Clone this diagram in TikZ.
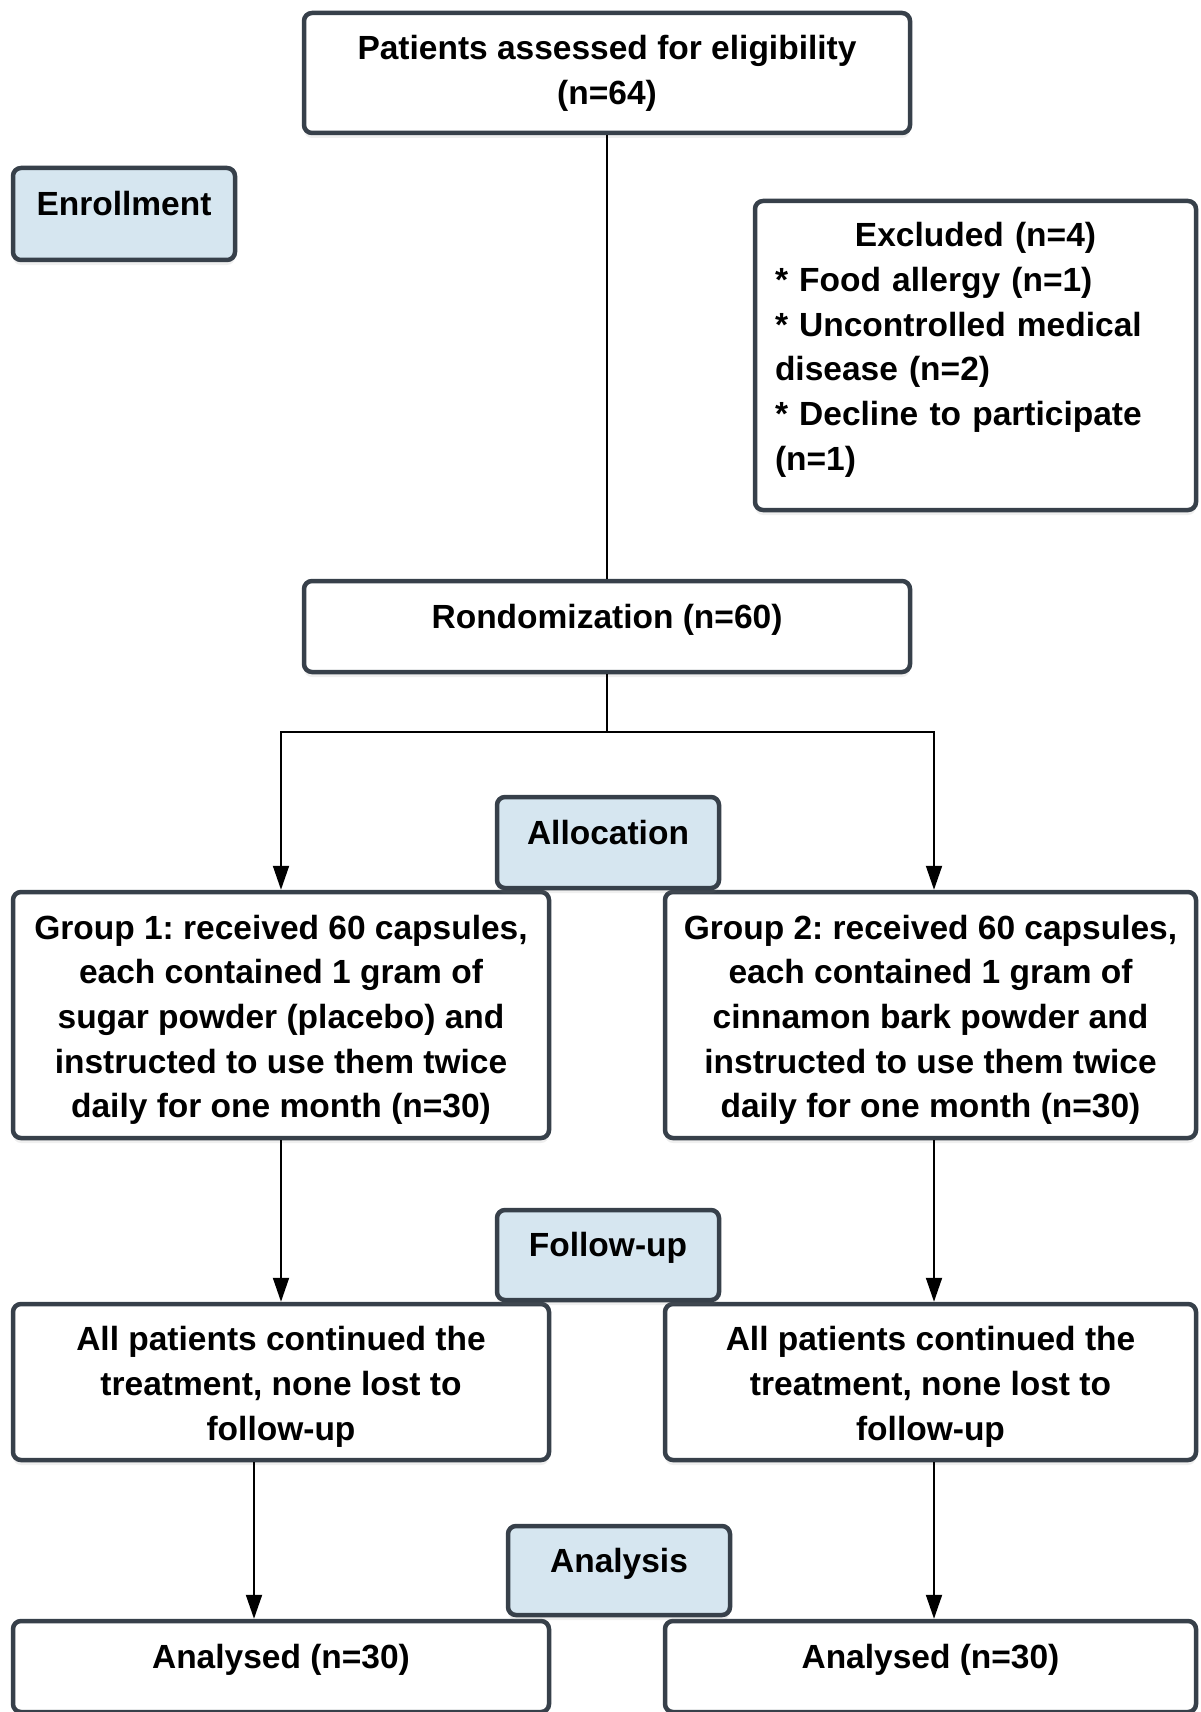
\documentclass[tikz,border=0pt]{standalone}
\usepackage{fontspec}
\setmainfont{Liberation Sans}
\usepackage{tikz}
\usetikzlibrary{arrows.meta, shadows}
\usepackage{xcolor}
\definecolor{boxline}{RGB}{55,64,74}
\definecolor{phaseblue}{RGB}{214,230,240}
\newcommand{\topgap}{\rule{0pt}{34pt}}
\tikzset{
  flowbox/.style={rectangle, rounded corners=8pt, draw=boxline, fill=white,
                  line width=4.5pt, align=center, inner sep=0pt,
                  font=\fontsize{33.5pt}{44.7pt}\selectfont\bfseries\frenchspacing,
                  drop shadow={shadow xshift=0pt, shadow yshift=-5pt, opacity=0.12}},
  phasebox/.style={flowbox, fill=phaseblue},
  oneline/.style={text height=24pt, text depth=21pt},
  link/.style={line width=2pt},
  arrowlink/.style={line width=2pt, -{Triangle[length=24pt, width=16pt]}},
}
\begin{document}
\begin{tikzpicture}[x=1pt, y=-1pt]
    \fill[white, use as bounding box] (0,0) rectangle (1200,1712);
    \clip (0,0) rectangle (1200,1712);
    % Enrollment
    \node[flowbox, minimum width=606pt, minimum height=120pt] (assess) at (607,73)
      {Patients assessed for eligibility\\(n=64)};
    \node[phasebox, oneline, minimum width=222pt, minimum height=92pt] (enroll) at (124,214) {Enrollment};
    \node[flowbox, minimum width=441pt, minimum height=309pt, align=left,
          text width=401pt] (excl) at (975.5,355.5)
      {\makebox[\hsize]{Excluded (n=4)}\\
       {*} Food allergy (n=1)\\
       {*} Uncontrolled medical\\
       disease (n=2)\\
       {*} Decline to participate\\
       (n=1)\rule[-18pt]{0pt}{18pt}};
    \node[flowbox, oneline, minimum width=606pt, minimum height=91pt] (rand) at (607,626.5) {Rondomization (n=60)};
    % Allocation
    \node[flowbox, minimum width=536pt, minimum height=246pt] (g1) at (281,1015)
      {\topgap Group 1: received 60 capsules,\\each contained 1 gram of\\sugar powder (placebo) and\\instructed to use them twice\\daily for one month (n=30)};
    \node[flowbox, minimum width=531pt, minimum height=246pt] (g2) at (930.5,1015)
      {\topgap Group 2: received 60 capsules,\\each contained 1 gram of\\cinnamon bark powder and\\instructed to use them twice\\daily for one month (n=30)};
    \node[phasebox, oneline, minimum width=222pt, minimum height=91pt] (alloc) at (608,842.5) {Allocation};
    % Follow-up
    \node[flowbox, minimum width=536pt, minimum height=156pt] (fu1) at (281,1382)
      {\topgap All patients continued the\\treatment, none lost to\\follow-up};
    \node[flowbox, minimum width=531pt, minimum height=156pt] (fu2) at (930.5,1382)
      {\topgap All patients continued the\\treatment, none lost to\\follow-up};
    \node[phasebox, oneline, minimum width=222pt, minimum height=90pt] (follow) at (608,1255) {Follow-up};
    % Analysis
    \node[flowbox, oneline, minimum width=536pt, minimum height=91pt] (an1) at (281,1666.5) {Analysed (n=30)};
    \node[flowbox, oneline, minimum width=531pt, minimum height=91pt] (an2) at (930.5,1666.5) {Analysed (n=30)};
    \node[phasebox, oneline, minimum width=222pt, minimum height=89pt] (analysis) at (619,1570.5) {Analysis};
    % Connectors
    \coordinate (split) at (607,732);
    \draw[link] (assess.south) -- (rand.north);
    \draw[link] (rand.south) -- (split);
    \draw[arrowlink] (split) -| (g1.north);
    \draw[arrowlink] (split) -| ([xshift=3.5pt]g2.north);
    \draw[arrowlink] (g1.south) -- (fu1.north);
    \draw[arrowlink] ([xshift=3.5pt]g2.south) -- ([xshift=3.5pt]fu2.north);
    \draw[arrowlink] ([xshift=-27pt]fu1.south) -- ([xshift=-27pt]an1.north);
    \draw[arrowlink] ([xshift=3.5pt]fu2.south) -- ([xshift=3.5pt]an2.north);
  \end{tikzpicture}
\end{document}
